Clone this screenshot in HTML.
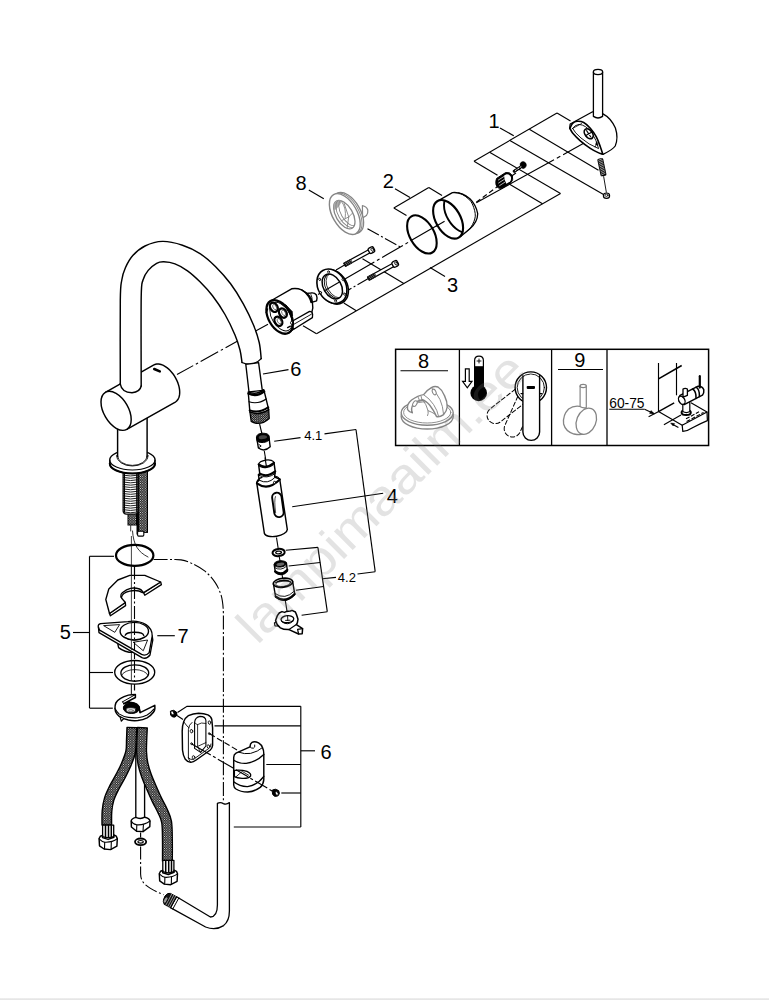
<!DOCTYPE html>
<html lang="en"><head><meta charset="utf-8"><title>Exploded parts drawing</title>
<style>
html,body{margin:0;padding:0;background:#fff;}
body{width:769px;height:1000px;overflow:hidden;position:relative;font-family:"Liberation Sans",Arial,Helvetica,sans-serif;}
svg{position:absolute;left:0;top:0;display:block;}
.foot{position:absolute;left:0;top:998px;width:769px;height:2px;background:linear-gradient(#f0f0f0,#e3e3e3);}
text{font-family:"Liberation Sans",Arial,Helvetica,sans-serif;fill:#000;}
.l{stroke:#000;stroke-width:1.15;fill:none;}
.o{stroke:#000;stroke-width:1.35;fill:#fff;stroke-linejoin:round;stroke-linecap:round;}
.n{stroke:#000;stroke-width:1.35;fill:none;stroke-linejoin:round;stroke-linecap:round;}
.t{stroke:#000;stroke-width:0.8;fill:none;stroke-linecap:round;}
.k{stroke:#000;stroke-width:1;fill:#000;stroke-linejoin:round;}
.dd{stroke:#000;stroke-width:1.1;fill:none;stroke-dasharray:13 2.5 2 2.5;}
.ds{stroke:#000;stroke-width:1.1;fill:none;stroke-dasharray:5 3;}
.g{stroke:#858585;stroke-width:1.2;fill:#fff;stroke-linejoin:round;stroke-linecap:round;}
.gn{stroke:#858585;stroke-width:1.2;fill:none;stroke-linejoin:round;stroke-linecap:round;}
.r{stroke:#000;stroke-width:2;fill:none;}
.bx{stroke:#000;stroke-width:1.5;fill:none;}
</style></head>
<body>
<svg width="769" height="1000" viewBox="0 0 769 1000">
<defs>
<pattern id="braid" width="2.4" height="2.4" patternUnits="userSpaceOnUse">
<rect width="2.4" height="2.4" fill="#000"/><circle cx="0" cy="0" r="0.58" fill="#fff"/><circle cx="2.4" cy="0" r="0.58" fill="#fff"/><circle cx="0" cy="2.4" r="0.58" fill="#fff"/><circle cx="2.4" cy="2.4" r="0.58" fill="#fff"/><circle cx="1.2" cy="1.2" r="0.58" fill="#fff"/>
</pattern>
<pattern id="knurl" width="2.2" height="2.2" patternUnits="userSpaceOnUse">
<rect width="2.2" height="2.2" fill="#000"/><circle cx="0.55" cy="0.55" r="0.5" fill="#fff"/><circle cx="1.65" cy="1.65" r="0.5" fill="#fff"/>
</pattern>
<pattern id="thread" width="4" height="1.6" patternUnits="userSpaceOnUse">
<rect width="4" height="1.6" fill="#fff"/><rect y="0.5" width="4" height="0.75" fill="#222"/>
</pattern>
</defs>
<text x="488.6" y="127.6" font-size="20">1</text>
<text x="382.8" y="188" font-size="20">2</text>
<text x="447" y="291.7" font-size="20">3</text>
<text x="295.6" y="190" font-size="20">8</text>
<text x="290.2" y="375.6" font-size="20">6</text>
<text x="386.8" y="502.5" font-size="20">4</text>
<text x="304.2" y="440.4" font-size="13">4.1</text>
<text x="337.8" y="581.8" font-size="13">4.2</text>
<text x="59.8" y="638.9" font-size="20">5</text>
<text x="177.6" y="642.8" font-size="20">7</text>
<text x="320.4" y="759.4" font-size="20">6</text>
<line class="l" x1="500" y1="128" x2="513.75" y2="135.75"/>
<line class="l" x1="474" y1="161.2" x2="557" y2="113"/>
<line class="l" x1="557" y1="113" x2="570.5" y2="121"/>
<line class="l" x1="529.3" y1="129.2" x2="598.5" y2="170.2"/>
<line class="l" x1="509.9" y1="140.5" x2="603.5" y2="194.5"/>
<line class="l" x1="474" y1="161.2" x2="497.5" y2="175.2"/>
<line class="l" x1="489.6" y1="152.2" x2="560.5" y2="193.4"/>
<line class="l" x1="316.5" y1="333.8" x2="560.5" y2="193.4"/>
<line class="l" x1="316.5" y1="333.8" x2="303" y2="325.8"/>
<line class="l" x1="356.3" y1="310.8" x2="343.8" y2="303"/>
<line class="l" x1="403.8" y1="283.5" x2="362.5" y2="258.8"/>
<line class="l" x1="542.5" y1="203.8" x2="509.6" y2="184.2"/>
<line class="l" x1="430" y1="267.5" x2="445" y2="276.5"/>
<line class="l" x1="395" y1="188.8" x2="410" y2="197.5"/>
<line class="l" x1="393.8" y1="208" x2="428.8" y2="187.5"/>
<line class="l" x1="428.8" y1="187.5" x2="442" y2="195.5"/>
<line class="l" x1="393.8" y1="208" x2="406.5" y2="215.5"/>
<line class="l" x1="308.8" y1="190" x2="323.8" y2="198.8"/>
<line class="l" x1="263" y1="374" x2="288.5" y2="369.6"/>
<line class="l" x1="274.2" y1="441.3" x2="300.5" y2="437.6"/>
<line class="l" x1="324.5" y1="433.9" x2="356" y2="429.5"/>
<line class="l" x1="356" y1="429.5" x2="375.2" y2="571.7"/>
<line class="l" x1="375.2" y1="571.7" x2="357.5" y2="574"/>
<line class="l" x1="292.2" y1="506.8" x2="383.2" y2="493.2"/>
<line class="l" x1="317.9" y1="547.4" x2="327.3" y2="611.7"/>
<line class="l" x1="285.8" y1="550.2" x2="317.9" y2="547.4"/>
<line class="l" x1="288.7" y1="566" x2="320.2" y2="562.5"/>
<line class="l" x1="295.9" y1="590.3" x2="323.6" y2="586.5"/>
<line class="l" x1="301.6" y1="615.2" x2="327.3" y2="611.7"/>
<line class="l" x1="322.5" y1="578.8" x2="336" y2="577.4"/>
<line class="l" x1="89.5" y1="556.3" x2="89.5" y2="708"/>
<line class="l" x1="89.5" y1="556.3" x2="114" y2="556.3"/>
<line class="l" x1="89.5" y1="672.5" x2="113" y2="672.5"/>
<line class="l" x1="89.5" y1="708.2" x2="112.8" y2="708.2"/>
<line class="l" x1="73" y1="632.5" x2="89.5" y2="632.5"/>
<line class="l" x1="157.3" y1="635.7" x2="174.8" y2="635.7"/>
<line class="l" x1="300.8" y1="706.3" x2="300.8" y2="827"/>
<path class="l" d="M177.5 712.5 L187 706.3 L300.8 706.3"/>
<line class="l" x1="214.5" y1="725.8" x2="300.8" y2="725.8"/>
<line class="l" x1="266.3" y1="764.5" x2="300.8" y2="764.5"/>
<line class="l" x1="281.3" y1="793" x2="300.8" y2="793"/>
<line class="l" x1="233.8" y1="827" x2="300.8" y2="827"/>
<line class="l" x1="300.8" y1="750.8" x2="315" y2="750.8"/>
<line class="l" x1="476.3" y1="202.7" x2="585" y2="142.6" style="stroke-dasharray:88.8 3.2 4 3.2 40"/>
<line class="l" x1="447" y1="219.8" x2="318" y2="294.6" style="stroke-dasharray:42 3 3 3 24 3 3 3 40 3 3 3 40"/>
<line class="dd" x1="268" y1="324.2" x2="177" y2="374.6" style="stroke-dasharray:20 3 2.5 3"/>
<line class="ds" x1="476.3" y1="202.3" x2="497.5" y2="186.5"/>
<line class="l" x1="510.5" y1="176.8" x2="516" y2="173"/>
<line class="dd" x1="367.5" y1="228.8" x2="400" y2="246.8"/>
<line class="dd" x1="345" y1="264.8" x2="336" y2="270"/>
<line class="dd" x1="368.8" y1="278.2" x2="346.5" y2="291"/>
<line class="dd" x1="134.5" y1="566" x2="134.5" y2="690"/>
<path class="dd" d="M153.6 559.5 L172 559.5  C173.5 559.57 177.67 559.25 181 559.9 C184.33 560.55 188 561.52 192 563.4 C196 565.28 201.1 567.95 205 571.2 C208.9 574.45 212.68 578.78 215.4 582.9 C218.12 587.02 220 591.57 221.3 595.9 C222.6 600.23 222.85 604.05 223.2 608.9 C223.55 613.75 223.37 622.32 223.4 625 L223.4 801" style="stroke-dasharray:14 2.4 2 2.4"/>
<path class="dd" d="M140.6 846.4 L140.6 874 C140.8 884 148 888 163.5 894.8"/>
<path class="dd" d="M259.6 424 L262 434"/>
<path class="dd" d="M264.3 451 L265.8 460"/>
<path class="dd" d="M276.5 537.5 L278.2 548.5"/>
<path class="dd" d="M279.3 557 L280.2 562"/>
<path class="dd" d="M282 574.5 L283 580"/>
<path class="dd" d="M285.2 600 L287 611"/>
<rect class="bx" x="395.6" y="349.3" width="313" height="96.2"/>
<line class="l" x1="459.4" y1="349.3" x2="459.4" y2="445.5" style="stroke-width:1.3"/>
<line class="l" x1="551.6" y1="349.3" x2="551.6" y2="445.5" style="stroke-width:1.3"/>
<line class="l" x1="607" y1="349.3" x2="607" y2="445.5" style="stroke-width:1.3"/>
<text x="418" y="367.6" font-size="20">8</text>
<line class="l" x1="400.5" y1="370.7" x2="448" y2="370.7"/>
<text x="574.2" y="367.2" font-size="20">9</text>
<line class="l" x1="558" y1="369.5" x2="603" y2="369.5"/>
<text x="609.3" y="408.4" font-size="14.6" textLength="35.2" lengthAdjust="spacingAndGlyphs">60-75</text>
<rect x="138.6" y="468" width="8.9" height="64.4" fill="url(#braid)" stroke="#000" stroke-width="1"/>
<rect x="128" y="512" width="8.5" height="13" fill="url(#braid)" stroke="#000" stroke-width="1"/>
<rect x="136.5" y="512" width="2.4" height="22.5" fill="#000"/>
<rect class="o" x="137.6" y="531.2" width="6.2" height="4.9" rx="1" style="stroke-width:1.1"/>
<path class="o" d="M123.1 468 L123.1 511 Q123.4 514 126.4 514.2 L135 514.2 Q137.8 514 138 511 L138 468 Z" style="stroke-width:1.2"/>
<path class="n" d="M123.3 475.2 Q130.5 476.8 137.8 475.2" style="stroke-width:1;stroke:#222"/>
<path class="n" d="M123.3 477.5 Q130.5 479.1 137.8 477.5" style="stroke-width:1;stroke:#222"/>
<path class="n" d="M123.3 479.8 Q130.5 481.4 137.8 479.8" style="stroke-width:1;stroke:#222"/>
<path class="n" d="M123.3 482.1 Q130.5 483.7 137.8 482.1" style="stroke-width:1;stroke:#222"/>
<path class="n" d="M123.3 484.4 Q130.5 486 137.8 484.4" style="stroke-width:1;stroke:#222"/>
<path class="n" d="M123.3 486.7 Q130.5 488.3 137.8 486.7" style="stroke-width:1;stroke:#222"/>
<path class="n" d="M123.3 489 Q130.5 490.6 137.8 489" style="stroke-width:1;stroke:#222"/>
<path class="n" d="M123.3 491.3 Q130.5 492.9 137.8 491.3" style="stroke-width:1;stroke:#222"/>
<path class="n" d="M123.3 493.6 Q130.5 495.2 137.8 493.6" style="stroke-width:1;stroke:#222"/>
<path class="n" d="M123.3 495.9 Q130.5 497.5 137.8 495.9" style="stroke-width:1;stroke:#222"/>
<path class="n" d="M123.3 498.2 Q130.5 499.8 137.8 498.2" style="stroke-width:1;stroke:#222"/>
<path class="n" d="M123.3 500.5 Q130.5 502.1 137.8 500.5" style="stroke-width:1;stroke:#222"/>
<path class="n" d="M123.3 502.8 Q130.5 504.4 137.8 502.8" style="stroke-width:1;stroke:#222"/>
<path class="n" d="M123.3 505.1 Q130.5 506.7 137.8 505.1" style="stroke-width:1;stroke:#222"/>
<path class="n" d="M123.3 507.4 Q130.5 509 137.8 507.4" style="stroke-width:1;stroke:#222"/>
<path class="n" d="M123.3 509.7 Q130.5 511.3 137.8 509.7" style="stroke-width:1;stroke:#222"/>
<path class="n" d="M123.3 512 Q130.5 513.6 137.8 512" style="stroke-width:1;stroke:#222"/>
<line class="n" x1="124.4" y1="470" x2="124.4" y2="512" style="stroke-width:1.3"/>
<line class="n" x1="136.8" y1="470" x2="136.8" y2="512" style="stroke-width:1.3"/>
<path class="t" d="M130.7 525.6 L130.7 531"/>
<path class="o" d="M109.75 460 A22.65 10 0 0 1 155.05 460 L155.05 463.4 A22.65 10 0 0 1 109.75 463.4 Z" style="stroke-width:1.3"/>
<path class="n" d="M109.75 463.4 A22.65 10 0 0 0 155.05 463.4" style="stroke-width:2"/>
<path class="n" d="M109.75 460 A22.65 10 0 0 0 155.05 460" style="stroke-width:1.2"/>
<path class="o" d="M117.6 420 L117.6 456 A14.75 6 0 0 0 147.1 456 L147.1 410 Z" style="stroke:none"/>
<path class="o" d="M117.6 420 L117.6 456 A14.75 9.6 0 0 0 147.1 456 L147.1 410 Z" style="stroke:none"/>
<path class="n" d="M117.6 428 L117.6 456.6 M147.1 456.6 L147.1 417.5" style="stroke-width:1.45"/>
<path class="n" d="M116.4 455.6 A15.9 10.4 0 0 0 148.3 455.6" style="stroke-width:0.85"/>
<path class="n" d="M117.6 456 A14.75 9.4 0 0 0 147.1 456" style="stroke-width:0.85"/>
<path class="o" d="M105.4 392.27 L153.9 364.97 L154.77 364.54 L155.7 364.23 L156.68 364.04 L157.72 363.97 L158.79 364.02 L159.9 364.19 L161.04 364.48 L162.2 364.89 L163.38 365.41 L164.57 366.05 L165.75 366.79 L166.93 367.63 L168.09 368.57 L169.23 369.61 L170.35 370.73 L171.42 371.92 L172.46 373.19 L173.45 374.53 L174.38 375.91 L175.25 377.35 L176.06 378.82 L176.79 380.32 L177.46 381.85 L178.04 383.38 L178.54 384.91 L178.95 386.43 L179.27 387.94 L179.51 389.42 L179.65 390.86 L179.7 392.26 L179.65 393.6 L179.52 394.88 L179.29 396.09 L178.97 397.22 L178.56 398.27 L178.07 399.23 L177.49 400.09 L176.83 400.84 L176.1 401.49 L175.3 402.03 L126.8 429.33 Z" style="stroke:none"/>
<path class="n" d="M105.4 392.27 L153.9 364.97 L154.77 364.54 L155.7 364.23 L156.68 364.04 L157.72 363.97 L158.79 364.02 L159.9 364.19 L161.04 364.48 L162.2 364.89 L163.38 365.41 L164.57 366.05 L165.75 366.79 L166.93 367.63 L168.09 368.57 L169.23 369.61 L170.35 370.73 L171.42 371.92 L172.46 373.19 L173.45 374.53 L174.38 375.91 L175.25 377.35 L176.06 378.82 L176.79 380.32 L177.46 381.85 L178.04 383.38 L178.54 384.91 L178.95 386.43 L179.27 387.94 L179.51 389.42 L179.65 390.86 L179.7 392.26 L179.65 393.6 L179.52 394.88 L179.29 396.09 L178.97 397.22 L178.56 398.27 L178.07 399.23 L177.49 400.09 L176.83 400.84 L176.1 401.49 L175.3 402.03 L126.8 429.33" style="stroke-width:1.45"/>
<ellipse class="o" cx="116.1" cy="410.8" rx="12.3" ry="21.4" transform="rotate(-30 116.1 410.8)" style="stroke-width:1.45"/>
<path class="n" d="M154.2 369 L159.8 371.4" style="stroke-width:2.5"/>
<path class="o" d="M120.3 384 C120.3 370 120.05 317.33 120.3 300 C120.55 282.67 120.95 285.37 121.8 280 C122.65 274.63 123.57 271.87 125.4 267.8 C127.23 263.73 129.53 259.23 132.8 255.6 C136.07 251.97 140.05 248.37 145 246 C149.95 243.63 156.25 241.53 162.5 241.4 C168.75 241.27 176.25 243.17 182.5 245.2 C188.75 247.23 194.52 250.07 200 253.6 C205.48 257.13 210.3 261.37 215.4 266.4 C220.5 271.43 225.95 277.57 230.6 283.8 C235.25 290.03 239.48 296.93 243.3 303.8 C247.12 310.67 250.85 318.55 253.5 325 C256.15 331.45 257.92 336.9 259.2 342.5 C260.48 348.1 260.87 355.92 261.2 358.6 Q251.5 367 242 362.5  C241.67 360.42 241.17 354.58 240 350 C238.83 345.42 237.5 340.92 235 335 C232.5 329.08 228.75 321.03 225 314.5 C221.25 307.97 216.67 301.25 212.5 295.8 C208.33 290.35 204.17 285.97 200 281.8 C195.83 277.63 191.67 273.78 187.5 270.8 C183.33 267.82 178.95 265.4 175 263.9 C171.05 262.4 166.87 261.9 163.8 261.8 C160.73 261.7 159.2 261.87 156.6 263.3 C154 264.73 150.47 267.62 148.2 270.4 C145.93 273.18 144.17 275.48 143 280 C141.83 284.52 141.5 279.83 141.2 297.5 C140.9 315.17 141.2 371.25 141.2 386 Q131 396 120.3 384 Z" style="stroke:none"/>
<path class="n" d="M120.3 384 C120.3 370 120.05 317.33 120.3 300 C120.55 282.67 120.95 285.37 121.8 280 C122.65 274.63 123.57 271.87 125.4 267.8 C127.23 263.73 129.53 259.23 132.8 255.6 C136.07 251.97 140.05 248.37 145 246 C149.95 243.63 156.25 241.53 162.5 241.4 C168.75 241.27 176.25 243.17 182.5 245.2 C188.75 247.23 194.52 250.07 200 253.6 C205.48 257.13 210.3 261.37 215.4 266.4 C220.5 271.43 225.95 277.57 230.6 283.8 C235.25 290.03 239.48 296.93 243.3 303.8 C247.12 310.67 250.85 318.55 253.5 325 C256.15 331.45 257.92 336.9 259.2 342.5 C260.48 348.1 260.87 355.92 261.2 358.6" style="stroke-width:1.45"/>
<path class="n" d="M242 362.5 C241.67 360.42 241.17 354.58 240 350 C238.83 345.42 237.5 340.92 235 335 C232.5 329.08 228.75 321.03 225 314.5 C221.25 307.97 216.67 301.25 212.5 295.8 C208.33 290.35 204.17 285.97 200 281.8 C195.83 277.63 191.67 273.78 187.5 270.8 C183.33 267.82 178.95 265.4 175 263.9 C171.05 262.4 166.87 261.9 163.8 261.8 C160.73 261.7 159.2 261.87 156.6 263.3 C154 264.73 150.47 267.62 148.2 270.4 C145.93 273.18 144.17 275.48 143 280 C141.83 284.52 141.5 279.83 141.2 297.5 C140.9 315.17 141.2 371.25 141.2 386" style="stroke-width:1.45"/>
<path class="n" d="M120.3 384 Q121.6 392.4 132 392.8 Q140 392 141.2 386" style="stroke-width:1.45"/>
<path class="n" d="M261.2 358.6 Q253 367.5 242 362.5"/>
<path class="o" d="M245.8 364.3 L249 392 L262.3 390.3 L258.6 362.6 Z"/>
<path class="o" d="M248.2 392 L249.9 412 Q259.5 416 268.7 409.6 L263.8 389.6 Q257 395.4 248.2 392 Z" style="stroke-width:1.4"/>
<path class="n" d="M248.4 393.6 Q257 397.4 264.2 391.4" style="stroke-width:2.2"/>
<path class="n" d="M249 401.8 Q258 404.6 266.2 399" style="stroke-width:1.2"/>
<path class="n" d="M249.7 410.4 Q259 413.6 268.2 407.4" style="stroke-width:2"/>
<path class="k" d="M249.9 412 L251.2 421.4 Q260 426.6 269.2 418.4 L268.7 409.6 Q259.5 416 249.9 412 Z" style="fill:url(#knurl);stroke-width:1.3"/>
<path class="o" d="M256.6 437.4 L258.4 448 Q264.5 452.4 270.2 446.8 L268.8 436 Z" style="stroke-width:1.4"/>
<path class="k" d="M256.6 437.4 Q256.4 433.6 262.4 433.2 Q268.6 433.2 268.8 436 L269.4 440 Q263.6 444.4 257.2 441.4 Z"/>
<ellipse class="o" cx="262.9" cy="437.2" rx="4.2" ry="1.9" transform="rotate(-6 262.9 437.2)" style="fill:#444;stroke:none"/>
<path class="n" d="M258.8 444.4 l2.4 1.6 l-2 1.4" style="stroke-width:0.9"/>
<path class="o" d="M258.6 464.4 L259.8 474 L258.4 474.6 L259.2 480 L256.7 482.6 L264.4 533.5 A11.66 5.2 -10 0 0 287.3 529.5 L279.7 479 L274.6 477 L275.2 471.4 L274 462.6 Z" style="stroke-width:1.45"/>
<ellipse class="o" cx="266.3" cy="463.7" rx="7.7" ry="3.7" transform="rotate(-8 266.3 463.7)" style="stroke-width:1.2"/>
<path class="n" d="M258.6 464.4 Q266 469.6 274 462.8" style="stroke-width:1.9"/>
<path class="n" d="M259.8 473.6 Q267 477.8 275.2 471.4" style="stroke-width:2.2"/>
<path class="n" d="M258.5 475.2 Q267 479.6 275.4 473.4" style="stroke-width:1"/>
<path class="n" d="M256.7 482.6 Q257.6 478.6 262 477.4 M279.7 479 Q278 476.4 274.6 476" style="stroke-width:1.2"/>
<path class="n" d="M256.9 483.4 Q268 491.4 279.8 479.6" style="stroke-width:2.1"/>
<path class="n" d="M259.6 480.4 Q267.6 484.6 274.4 478" style="stroke-width:1"/>
<ellipse class="o" cx="274.7" cy="482.5" rx="1.2" ry="1.2" style="stroke-width:1"/>
<path class="l" d="M265 457.5 L266.4 466.6"/>
<rect class="o" x="-4.7" y="-12.3" width="9.4" height="24.6" rx="4.7" transform="translate(277.9 504.9) rotate(-8)" style="stroke-width:1.9"/>
<path class="n" d="M275.4 496.6 Q274 500 275.6 512.6" style="stroke-width:0.7"/>
<ellipse class="o" cx="278.6" cy="552.5" rx="6.1" ry="3.6" transform="rotate(-6 278.6 552.5)" style="stroke-width:2"/>
<ellipse class="o" cx="278.6" cy="552.5" rx="2.9" ry="1.3" transform="rotate(-6 278.6 552.5)" style="stroke-width:1.3"/>
<path class="o" d="M274.2 564.6 L275.4 572.4 Q281.5 577.4 287.4 571 L286.4 563 Z" style="stroke-width:1.4"/>
<ellipse class="k" cx="280.3" cy="563.9" rx="6.1" ry="3.1" transform="rotate(-7 280.3 563.9)"/>
<ellipse class="o" cx="280.4" cy="564.3" rx="4" ry="1.6" transform="rotate(-7 280.4 564.3)" style="fill:#666;stroke:none"/>
<path class="n" d="M275.2 571.4 Q281.4 576.2 287.2 570" style="stroke-width:2.4"/>
<path class="n" d="M274.6 567.6 Q281 571.6 286.8 566" style="stroke-width:0.9"/>
<path class="o" d="M273.4 583.6 L275.6 597 Q285 604.6 294.8 594.4 L292.6 581.4 Z" style="stroke-width:1.4"/>
<ellipse class="o" cx="283" cy="582.7" rx="9.7" ry="4.5" transform="rotate(-7 283 582.7)" style="stroke-width:1.7"/>
<path class="k" d="M275.2 582.6 Q283 577.6 291 581.6 Q283 580.4 275.2 582.6 Z" style="stroke-width:0.6"/>
<ellipse class="n" cx="283.1" cy="583.4" rx="7.4" ry="3" transform="rotate(-7 283.1 583.4)" style="stroke-width:0.8"/>
<path class="n" d="M275.8 596.6 Q285 604 294.6 594" style="stroke-width:2.2"/>
<path class="n" d="M275.2 593.6 Q285 600.6 294.2 591.2" style="stroke-width:0.9"/>
<path class="o" d="M275.6 620.6 L277.4 615.6 L279.2 613 L282 611.6 L284.6 612.4 L286.6 611.4 L290.4 611 L292 610.4 L295.4 612 L296.8 615.4 L298 619.2 L297.4 622.6 L296.4 624.6 L302.6 628.6 L302.2 633.8 L298.6 634 L289 629.6 Q283.6 629.8 280.4 627.8 Q276.4 625 275.6 620.6 Z" style="stroke-width:1.5"/>
<ellipse class="o" cx="287.4" cy="619.2" rx="6.4" ry="3.5" transform="rotate(-5 287.4 619.2)" style="stroke-width:1.3"/>
<path class="n" d="M281.6 621.6 Q287.4 626.4 293.4 621" style="stroke-width:1"/>
<path class="n" d="M287.6 615.8 L287.8 620.6 M285.6 620.4 L290 620.2" style="stroke-width:0.9"/>
<path class="n" d="M289 629.6 L296.4 624.6 M298.6 634 L297.6 629.4 L302.6 628.6" style="stroke-width:1.2"/>
<path class="n" d="M276 622 L274.4 623 L275 626 L278 626" style="stroke-width:1.2"/>
<line class="l" x1="131.4" y1="536" x2="131.4" y2="694" style="stroke-width:0.85;stroke:#222"/>
<ellipse class="r" cx="134.7" cy="555.4" rx="18.7" ry="10.5" style="stroke-width:2.2"/>
<path class="t" d="M132.5 531 C133.5 545 138 552 148 557"/>
<path class="o" d="M160.6 582 L161.4 584.6 L144.8 595.2 L143.6 592.6 Z"/>
<path class="o" d="M125.3 602.5 L125.6 605.6 L110.4 615.8 L109.5 613.5 Z"/>
<path class="o" d="M109.5 613.5 L105.8 599.5 L108.8 589 L117.8 580 L129.8 575.3 L144.8 575.3 L160.6 582 L143.6 592.6 C142.92 592 141.68 589.72 139.5 589 C137.32 588.28 133.37 587.67 130.5 588.3 C127.63 588.93 123.92 591.43 122.3 592.8 C120.68 594.17 120.3 594.88 120.8 596.5 C121.3 598.12 124.55 601.5 125.3 602.5 Z"/>
<path class="n" d="M121.4 597.6 C122 591 136 588.5 142.6 592.6"/>
<path class="o" d="M117 640 L118.6 647.6 Q126 653.5 137 652.2 L137 644 Z"/>
<path class="o" d="M98.4 627 L99 632.6 L142 657.6 Q146.6 659.6 150 655 L152.8 640 L152.2 636"/>
<path class="o" d="M100.6 623.6 Q97.6 624.4 98.4 627 L99.6 630.2 L141.6 654.4 Q146 656.4 149.2 652.6 L152.2 636 Q152.6 629 146 624.6 Q138 620 128 621.6 Z"/>
<path class="o" d="M104 625.6 L119.6 624.6 L115 632 Z" style="stroke-width:0.9"/>
<path class="o" d="M133.6 642.2 L147.6 640 L143.4 650.4 Z" style="stroke-width:0.9"/>
<ellipse class="o" cx="134.3" cy="631.2" rx="14.2" ry="8.8"/>
<path class="n" d="M125.2 635.2 A9.4 3.6 0 0 1 143.8 635.6"/>
<path class="n" d="M122.6 636 Q134 645 146.2 636.2" style="stroke-width:0.8"/>
<ellipse class="o" cx="134.7" cy="672.3" rx="20" ry="11.8"/>
<ellipse class="o" cx="134.8" cy="673" rx="13.9" ry="8.2"/>
<path class="n" d="M121.6 675.4 A13.4 7 0 0 1 148 675.4" style="stroke-width:0.8"/>
<path class="o" d="M135.4 694.4 Q131 694.4 128.4 695.1 Q123.6 696.4 120.6 698.3 Q117 700.4 115.9 702.9 Q114.8 705.6 115 708.4 L115.5 711.5 Q116.6 714.2 119 716.2 Q123 719 128.4 720.1 Q133 720.9 137.8 720.5 Q143 719.8 147.1 717.8 Q151 715.6 153.4 712.3 Q154.8 710.4 154.9 708.4 L154.8 705.3 L140.1 712.7 L139.3 708.4 Q136 701.6 128 702.4 L123.7 703.7 L135.4 697.5 Z" style="stroke-width:1.5"/>
<path class="n" d="M115 708.4 Q116.6 711.4 119 713.9 Q123 716.6 128.4 717.4 Q133 718 137.8 717.8 Q143 717 147.1 715 Q151 712.8 153.8 709.2" style="stroke-width:1.1"/>
<path class="n" d="M122.6 701.8 L134.6 695 M123.7 703.7 L122.6 701.8" style="stroke-width:1"/>
<ellipse class="k" cx="131.5" cy="708" rx="8.2" ry="5.5"/>
<ellipse class="o" cx="130.9" cy="710" rx="4.9" ry="2.4" style="stroke-width:0.7;fill:#ddd"/>
<ellipse class="n" cx="130.9" cy="710.6" rx="2.4" ry="1" style="stroke-width:0.6;stroke:#555"/>
<path class="n" d="M140.1 712.7 L139.3 708.4" style="stroke-width:1.2"/>
<path class="o" d="M120.2 717.4 L121.4 721.2 L123.4 718.8" style="stroke-width:1.2"/>
<line class="dd" x1="134.5" y1="566.5" x2="134.5" y2="588"/>
<line class="dd" x1="134.5" y1="622" x2="134.5" y2="650"/>
<line class="dd" x1="134.5" y1="660" x2="134.5" y2="681"/>
<line class="l" x1="131.4" y1="566.5" x2="131.4" y2="588.5" style="stroke-width:0.85;stroke:#222"/>
<line class="l" x1="131.4" y1="622.5" x2="131.4" y2="650" style="stroke-width:0.85;stroke:#222"/>
<line class="l" x1="131.4" y1="660.5" x2="131.4" y2="681" style="stroke-width:0.85;stroke:#222"/>
<line class="l" x1="131.4" y1="684" x2="131.4" y2="694.4" style="stroke-width:0.85;stroke:#222"/>
<line class="l" x1="134.5" y1="684" x2="134.5" y2="690.5"/>
<rect class="o" x="135.8" y="745" width="8.8" height="74"/>
<path class="k" d="M127 727.41 C126.92 729.47 126.69 735.83 126.51 739.76 C126.32 743.7 126.73 747.11 125.9 751 C125.08 754.9 123.16 759.36 121.57 763.15 C119.98 766.95 118.32 769.99 116.34 773.78 C114.37 777.57 111.66 781.9 109.7 785.87 C107.74 789.84 105.85 793.49 104.61 797.6 C103.36 801.72 102.65 806 102.22 810.56 C101.79 815.11 102.04 822.54 102 824.93 L111.6 825.07 C111.63 822.8 111.41 815.55 111.78 811.44 C112.15 807.33 112.71 803.95 113.79 800.4 C114.88 796.85 116.46 793.83 118.3 790.13 C120.14 786.44 122.83 782.1 124.86 778.22 C126.88 774.34 128.69 771.05 130.43 766.85 C132.17 762.64 134.35 757.43 135.3 753 C136.24 748.56 135.88 744.44 136.09 740.24 C136.31 736.04 136.51 729.87 136.6 727.79 Z" style="fill:url(#braid);stroke-width:1.4"/>
<path class="k" d="M137.51 727.56 C137.41 729.61 137.04 735.72 136.9 739.84 C136.77 743.95 136.49 748.05 136.71 752.24 C136.92 756.44 137.32 760.76 138.2 765 C139.08 769.23 140.5 773.49 141.99 777.65 C143.47 781.81 145.34 785.87 147.1 789.95 C148.87 794.03 150.75 798.28 152.58 802.11 C154.41 805.95 156.58 809.51 158.11 812.96 C159.64 816.41 161.03 818.28 161.77 822.8 C162.5 827.32 162.38 833.73 162.5 840.1 C162.62 846.47 162.5 857.52 162.5 861 L172.3 861 C172.3 857.48 172.44 846.53 172.3 839.9 C172.15 833.27 172.3 826.34 171.43 821.2 C170.57 816.06 168.76 812.93 167.09 809.04 C165.42 805.15 163.25 801.72 161.42 797.89 C159.59 794.05 157.8 789.97 156.1 786.05 C154.39 782.13 152.6 778.19 151.21 774.35 C149.83 770.51 148.58 766.77 147.8 763 C147.01 759.24 146.68 755.56 146.49 751.76 C146.31 747.95 146.56 744.11 146.7 740.16 C146.83 736.21 147.19 730.06 147.29 728.04 Z" style="fill:url(#braid);stroke-width:1.4"/>
<path class="o" d="M102.6 825.2 L102.6 836.6 Q108.1 838.8 113.7 836.6 L113.7 825.2 Z" style="stroke-width:1.3"/>
<path class="n" d="M105.5 825.8 L105.5 836.8 M108.5 825.8 L108.5 837 M111.3 825.8 L111.3 836.8" style="stroke-width:1.5"/>
<path class="o" d="M99.1 838.6 L100.3 836.2 L102.5 835.4 L102.5 837.6 L108.1 839.4 L113.9 837.2 L113.9 835 L116.3 836.2 L117.3 838.6 L116.9 846.2 L110.5 849.6 L104.1 849 L99.5 845.8 Z" style="stroke-width:1.45"/>
<path class="n" d="M99.1 838.8 Q102.1 841.8 104.7 842.2 Q112.1 842.6 117.3 838.8" style="stroke-width:1.1"/>
<path class="n" d="M104.7 842.2 L104.5 849 M111.3 842.2 L111.1 849.4" style="stroke-width:1.1"/>
<path class="o" d="M162.8 860.3 L162.8 871.7 Q168.3 873.9 173.9 871.7 L173.9 860.3 Z" style="stroke-width:1.3"/>
<path class="n" d="M165.7 860.9 L165.7 871.9 M168.7 860.9 L168.7 872.1 M171.5 860.9 L171.5 871.9" style="stroke-width:1.5"/>
<path class="o" d="M159.3 873.7 L160.5 871.3 L162.7 870.5 L162.7 872.7 L168.3 874.5 L174.1 872.3 L174.1 870.1 L176.5 871.3 L177.5 873.7 L177.1 881.3 L170.7 884.7 L164.3 884.1 L159.7 880.9 Z" style="stroke-width:1.45"/>
<path class="n" d="M159.3 873.9 Q162.3 876.9 164.9 877.3 Q172.3 877.7 177.5 873.9" style="stroke-width:1.1"/>
<path class="n" d="M164.9 877.3 L164.7 884.1 M171.5 877.3 L171.3 884.5" style="stroke-width:1.1"/>
<path class="o" d="M131.2 821 Q131.6 818.6 135.8 817.4 Q140.4 819.6 144.8 817.2 Q149.6 818.4 150 821 L149.8 826.6 L143 831.6 L136.6 831.2 L131.4 827 Z" style="stroke-width:1.45"/>
<path class="n" d="M131.2 821 Q133 824.4 136.8 824.8 Q144 825.4 150 821 M136.8 824.8 L136.6 831.2 M143.4 825 L143 831.6" style="stroke-width:1.1"/>
<ellipse class="o" cx="140.6" cy="841.8" rx="5.6" ry="3.3" style="stroke-width:1.8"/>
<ellipse class="o" cx="140.6" cy="841.8" rx="2.7" ry="1.3" style="stroke-width:1.1"/>
<line class="l" x1="140.6" y1="832.4" x2="140.6" y2="837.6"/>
<path class="k" d="M170.4 711.2 Q173.6 709 176.4 712 Q178.2 715.4 175.2 717 Q172 717.8 170.6 715 Z"/>
<ellipse class="o" cx="172.4" cy="712.8" rx="1.3" ry="1.9" transform="rotate(-30 172.4 712.8)" style="stroke-width:0.6"/>
<line class="l" x1="177" y1="715.6" x2="183" y2="719.4"/>
<path class="o" d="M183.7 721.8 Q185.4 717.4 188.4 715.6 Q193 713.4 198.6 713.2 Q204 713.2 207.9 714.8 Q211.2 716.4 211.8 719.5 L212.6 728 L212.6 745.3 Q212.2 748.4 210.3 750 L196.2 760 Q193.4 762.2 190.7 762.4 Q187.4 762 185.3 759.3 Q183 755.6 182.5 750 L182.2 731.2 Q182.4 725 183.7 721.8 Z" style="stroke-width:1.45"/>
<path class="n" d="M188.4 757.8 L188.4 729.6 Q188.8 724.6 192 722.4 M183.7 721.8 Q186.4 725.4 188.6 727.6 M190.7 762.4 Q189 760.4 188.4 757.8 M188.4 757.8 Q190.4 760 193.4 759.4 L209.4 748 Q211 746.4 211 744" style="stroke-width:0.9"/>
<path class="o" d="M194.6 722.4 Q195 717.4 200 716.4 Q205.4 716.4 205.9 720.4 L205.9 746 L200.6 752.4 L194.6 748.4 Z" style="stroke-width:1.1"/>
<path class="n" d="M197.6 724.6 L197.6 746.4 L200.6 752.4 M194.6 722.4 Q196.4 724.8 197.6 724.6 Q201 722 205.9 723.4 M197.6 746.4 L205.9 742.6" style="stroke-width:0.8"/>
<ellipse class="o" cx="191.5" cy="731.2" rx="1.27" ry="1.8" transform="rotate(-15 191.5 731.2)" style="stroke-width:0.8"/>
<ellipse class="o" cx="209.5" cy="722.6" rx="1.27" ry="1.8" transform="rotate(-15 209.5 722.6)" style="stroke-width:0.8"/>
<ellipse class="o" cx="209.2" cy="733.6" rx="0.77" ry="1.08" transform="rotate(-15 209.2 733.6)" style="stroke-width:0.8"/>
<ellipse class="o" cx="191.5" cy="743.7" rx="0.77" ry="1.08" transform="rotate(-15 191.5 743.7)" style="stroke-width:0.8"/>
<ellipse class="o" cx="208.4" cy="746.5" rx="1.27" ry="1.8" transform="rotate(-15 208.4 746.5)" style="stroke-width:0.8"/>
<ellipse class="o" cx="193.6" cy="757.4" rx="1.27" ry="1.8" transform="rotate(-15 193.6 757.4)" style="stroke-width:0.8"/>
<line class="ds" x1="209.6" y1="733.8" x2="238.3" y2="750.7" style="stroke-dasharray:6 2.6"/>
<line class="l" x1="191.8" y1="743.9" x2="234" y2="768.6" style="stroke-dasharray:22 2.6 3 2.6"/>
<path class="o" d="M233.7 757.7 Q233.6 754.6 236 753.2 L250 746.8 Q250 743.6 252 742.4 Q254.6 741 258.6 742.9 Q261.6 744.8 262.5 747.6 Q263.8 750 263.8 754 L263.8 779.6 Q263.4 784.6 260.2 787.4 Q254.6 791.4 247.7 792 Q240.4 792 236 789 Q233.8 787.4 233.7 785 Z" style="stroke-width:1.45"/>
<path class="n" d="M233.7 760.2 Q239 763.8 246.2 763.4 Q256.6 761.8 263.8 754.6"/>
<path class="n" d="M238.6 752.2 Q244.6 754.4 250.6 753.4 Q258 751.6 262.5 747.6" style="stroke-width:1"/>
<path class="n" d="M233.7 781.8 Q240 786.8 247.6 786.6 Q257.6 785 263.8 776.4"/>
<path class="n" d="M250 746.8 Q251.4 748.6 253.4 748.2 Q255.4 747.4 254.8 745" style="stroke-width:1"/>
<path class="o" d="M234.4 770.4 Q241 769.6 247 771.4 Q251.4 773.4 250.6 776 Q248.4 778.8 242 778.4 Q237 778 234.4 776.6 Z" style="stroke-width:1.3"/>
<path class="n" d="M236 776.8 L242.2 771.4 L248.6 775.2" style="stroke-width:0.8"/>
<line class="l" x1="236" y1="769.8" x2="272.6" y2="791.2" style="stroke-dasharray:14 2.6 3 2.6"/>
<path class="k" d="M272.2 790.2 Q275.2 788 278.6 790.6 Q280.6 794 277.8 796 Q274.2 797.4 272.6 794.4 Z"/>
<ellipse class="o" cx="276.8" cy="793.4" rx="1.3" ry="1.9" transform="rotate(-30 276.8 793.4)" style="stroke-width:0.6"/>
<path class="o" d="M217.4 803.4 L217.4 905 Q217.4 916.6 210.4 917 L176.6 896.8 L170.4 907.6 L205.6 927 Q215.6 930.8 223.6 925.6 Q229.4 921 229.4 911 L229.4 802.6 Q226.4 805 223.4 803.6 Q220.4 801.8 217.4 803.4 Z" style="stroke-width:1.3"/>
<path class="k" d="M176.6 896.8 L170.6 907.8 L164.2 904.4 Q162.2 900 165 896 Q167.6 892.4 170.4 893.4 Z" style="fill:#111"/>
<path class="n" d="M171.6 894.4 L165.8 905.2 M173.6 895.4 L167.8 906.4 M175.4 896.4 L169.6 907.2" style="stroke:#fff;stroke-width:0.55"/>
<ellipse class="o" cx="165.6" cy="900" rx="1.7" ry="3.6" transform="rotate(28 165.6 900)" style="stroke-width:0.7;fill:#999"/>
<path class="n" d="M178.8 898 L172.8 909" style="stroke-width:1"/>
<path class="o" d="M570.2 124 L592.6 111.8 L603 113.8 Q611 118 615.4 128 Q618.6 138 615.2 146 Q613 149.4 603 154.4 L600 153 L569.6 128.4 Z" style="stroke-width:1.3"/>
<path class="o" d="M569.9 128.3 C570.38 127.47 571.62 124.47 572.8 123.3 C573.98 122.13 575.18 121.43 577 121.3 C578.82 121.17 581.48 121.33 583.7 122.5 C585.92 123.67 588.22 125.93 590.3 128.3 C592.38 130.67 594.53 133.63 596.2 136.7 C597.87 139.77 599.2 143.78 600.3 146.7 C601.4 149.62 602.38 152.95 602.8 154.2 C602.12 153.98 600.78 153.88 598.7 152.9 C596.62 151.92 593.37 150.32 590.3 148.3 C587.23 146.28 583.22 143.3 580.3 140.8 C577.38 138.3 574.53 135.38 572.8 133.3 C571.07 131.22 570.38 129.13 569.9 128.3 Z" style="stroke-width:1.6"/>
<path class="n" d="M572.6 128.4 Q574.6 125 579 124.4 Q586 125 591.6 132.6 Q596.4 139.6 598.6 148.6 Q588.6 144.6 581 138 Q574.6 132.6 572.6 128.4 Z" style="stroke-width:0.9"/>
<path class="n" d="M572.6 128.4 L581.6 123.6 M597 142.6 L595.2 147" style="stroke-width:0.8"/>
<ellipse class="o" cx="588.7" cy="133.8" rx="3.6" ry="5.6" transform="rotate(-38 588.7 133.8)" style="stroke-width:1.7"/>
<path class="n" d="M586.6 130.6 L590.8 137 M585.8 135.4 L591.6 132.2" style="stroke-width:1.1"/>
<path class="k" d="M596.6 141.6 L598 145.4 L595.6 144.4 Z" style="stroke-width:0.5"/>
<path class="o" d="M593.4 72 L593.4 116.4 Q598 119.6 602.6 116.4 L602.6 72 Z" style="stroke-width:1.3"/>
<ellipse class="o" cx="598" cy="72" rx="4.6" ry="2.6" style="stroke-width:1.3"/>
<g transform="translate(601.9 167.2) rotate(-12)"><rect x="-3" y="-9" width="6" height="18" rx="1.5" fill="#000"/><line x1="-2.2" y1="-7.4" x2="2.2" y2="-8.2" stroke="#fff" stroke-width="0.55"/><line x1="-2.2" y1="-5.75" x2="2.2" y2="-6.55" stroke="#fff" stroke-width="0.55"/><line x1="-2.2" y1="-4.1" x2="2.2" y2="-4.9" stroke="#fff" stroke-width="0.55"/><line x1="-2.2" y1="-2.45" x2="2.2" y2="-3.25" stroke="#fff" stroke-width="0.55"/><line x1="-2.2" y1="-0.8" x2="2.2" y2="-1.6" stroke="#fff" stroke-width="0.55"/><line x1="-2.2" y1="0.85" x2="2.2" y2="0.05" stroke="#fff" stroke-width="0.55"/><line x1="-2.2" y1="2.5" x2="2.2" y2="1.7" stroke="#fff" stroke-width="0.55"/><line x1="-2.2" y1="4.15" x2="2.2" y2="3.35" stroke="#fff" stroke-width="0.55"/><line x1="-2.2" y1="5.8" x2="2.2" y2="5" stroke="#fff" stroke-width="0.55"/><line x1="-2.2" y1="7.45" x2="2.2" y2="6.65" stroke="#fff" stroke-width="0.55"/></g>
<line class="l" x1="603.6" y1="176.2" x2="606.4" y2="192.6" style="stroke-width:0.9"/>
<ellipse class="o" cx="606.5" cy="195.7" rx="3.1" ry="2.7" style="stroke-width:1.2"/>
<ellipse class="n" cx="606.5" cy="195.3" rx="1.5" ry="1.1" style="stroke-width:0.8"/>
<path class="k" d="M496.6 178.4 L505.6 172.6 Q510 171.6 512.4 175.6 Q513.6 180 511 182.6 L502.4 188 Q497.6 189.6 496 184.6 Q495.4 181 496.6 178.4 Z"/>
<path class="o" d="M506 174.4 Q509.2 174 510.8 176.8 Q511.6 179.8 510 181.4 L506.4 183.8 Q504 179.6 504.2 175.6 Z" style="stroke:none"/>
<path class="n" d="M498.4 180 L503.8 176.6 M498.6 183 L504.2 179.4 M499.6 185.6 L504.8 182.2" style="stroke:#fff;stroke-width:0.7"/>
<path class="k" d="M513.2 170.6 L520.4 166 Q519.6 163.4 521.6 162 Q524.4 161 526 163.6 Q526.8 166.4 524.6 168 Q522.6 168.6 521.6 167.8 L514.4 172.6 Q512.8 172.4 513.2 170.6 Z"/>
<path class="n" d="M515.2 170.6 l1.2 -0.8 M517.6 169 l1.2 -0.8 M520 167.4 l1 -0.7" style="stroke:#fff;stroke-width:0.9"/>
<path class="o" d="M438.4 200.6 L452.4 192.6 Q461 191.6 469.9 198.7 Q476 204.6 477.7 213.7 Q477.6 222 469.9 228.7 L460.6 236.6 Z" style="stroke-width:1.3"/>
<path class="n" d="M458.6 192.8 C459.23 193.07 460.77 193.4 462.4 194.4 C464.03 195.4 466.67 197.03 468.4 198.8 C470.13 200.57 471.65 202.1 472.8 205 C473.95 207.9 475.57 212.57 475.3 216.2 C475.03 219.83 472.93 223.98 471.2 226.8 C469.47 229.62 465.95 232.05 464.9 233.1" style="stroke-width:1"/>
<ellipse class="o" cx="448.1" cy="219.3" rx="12.3" ry="21.1" transform="rotate(-30 448.1 219.3)" style="stroke-width:2.1"/>
<clipPath id="cp2"><ellipse cx="448.1" cy="219.3" rx="12.3" ry="21.1" transform="rotate(-30 448.1 219.3)"/></clipPath>
<g clip-path="url(#cp2)"><ellipse class="n" cx="458.6" cy="213.6" rx="11.9" ry="20.7" transform="rotate(-30 458.6 213.6)" style="stroke-width:1.9"/></g>
<line class="l" x1="444.6" y1="221.2" x2="436" y2="226.2"/>
<ellipse class="r" cx="421.9" cy="234.4" rx="12.1" ry="20.9" transform="rotate(-30 421.9 234.4)" style="stroke-width:2.1"/>
<g transform="translate(344.6 264.8) rotate(-28.72)"><rect class="o" x="0" y="-1.7" width="28.3" height="3.4" style="stroke-width:1.25"/><rect x="-0.4" y="-2.3" width="8.6" height="4.6" rx="1.2" fill="#111"/><line x1="1.4" y1="-1.6" x2="2" y2="1.6" stroke="#fff" stroke-width="0.35"/><line x1="3.3" y1="-1.6" x2="3.9" y2="1.6" stroke="#fff" stroke-width="0.35"/><line x1="5.2" y1="-1.6" x2="5.8" y2="1.6" stroke="#fff" stroke-width="0.35"/><line x1="7.1" y1="-1.6" x2="7.7" y2="1.6" stroke="#fff" stroke-width="0.35"/><rect class="o" x="27.7" y="-2.9" width="5.8" height="5.8" rx="1.7" style="stroke-width:1.35"/><ellipse class="n" cx="31.5" cy="0" rx="1.2" ry="1.7" style="stroke-width:0.8"/></g>
<g transform="translate(368.4 278.6) rotate(-28.72)"><rect class="o" x="0" y="-1.7" width="28.3" height="3.4" style="stroke-width:1.25"/><rect x="-0.4" y="-2.3" width="8.6" height="4.6" rx="1.2" fill="#111"/><line x1="1.4" y1="-1.6" x2="2" y2="1.6" stroke="#fff" stroke-width="0.35"/><line x1="3.3" y1="-1.6" x2="3.9" y2="1.6" stroke="#fff" stroke-width="0.35"/><line x1="5.2" y1="-1.6" x2="5.8" y2="1.6" stroke="#fff" stroke-width="0.35"/><line x1="7.1" y1="-1.6" x2="7.7" y2="1.6" stroke="#fff" stroke-width="0.35"/><rect class="o" x="27.7" y="-2.9" width="5.8" height="5.8" rx="1.7" style="stroke-width:1.35"/><ellipse class="n" cx="31.5" cy="0" rx="1.2" ry="1.7" style="stroke-width:0.8"/></g>
<ellipse class="o" cx="333.4" cy="286.9" rx="13.8" ry="18.2" transform="rotate(-30 333.4 286.9)" style="stroke-width:1.5"/>
<ellipse class="o" cx="331.9" cy="286.3" rx="13.8" ry="18.2" transform="rotate(-30 331.9 286.3)" style="stroke-width:1.6"/>
<ellipse class="o" cx="332.3" cy="286.5" rx="8.9" ry="13.4" transform="rotate(-30 332.3 286.5)" style="stroke-width:1.5"/>
<clipPath id="cp3"><ellipse cx="332.3" cy="286.5" rx="8.9" ry="13.4" transform="rotate(-30 332.3 286.5)"/></clipPath>
<g clip-path="url(#cp3)"><ellipse class="n" cx="334.5" cy="286.1" rx="8.9" ry="13.4" transform="rotate(-30 334.5 286.1)" style="stroke-width:0.9"/><ellipse class="n" cx="336.3" cy="285.5" rx="8.9" ry="13.4" transform="rotate(-30 336.3 285.5)" style="stroke-width:0.7"/><line class="l" x1="342" y1="280.6" x2="324" y2="291"/></g>
<ellipse class="o" cx="328.6" cy="272" rx="0.9" ry="1.3" transform="rotate(-30 328.6 272)" style="stroke-width:0.8"/>
<ellipse class="o" cx="319.6" cy="279.4" rx="0.9" ry="1.3" transform="rotate(-30 319.6 279.4)" style="stroke-width:0.8"/>
<ellipse class="o" cx="320.6" cy="292.6" rx="0.9" ry="1.3" transform="rotate(-30 320.6 292.6)" style="stroke-width:0.8"/>
<ellipse class="o" cx="335.6" cy="301" rx="0.9" ry="1.3" transform="rotate(-30 335.6 301)" style="stroke-width:0.8"/>
<ellipse class="o" cx="344.4" cy="294" rx="0.9" ry="1.3" transform="rotate(-30 344.4 294)" style="stroke-width:0.8"/>
<ellipse class="o" cx="343" cy="279.6" rx="0.9" ry="1.3" transform="rotate(-30 343 279.6)" style="stroke-width:0.8"/>
<path class="o" d="M270.5 301 L291.6 288.8 Q296.6 287.8 301.6 289.8 L307 293.4 L310.8 293 Q314.6 292.4 316.4 295 Q317.6 298 316.6 300.8 L312.4 302.2 Q313.6 308 311.6 313.2 L310.6 316.4 L288.8 332.8 Z" style="stroke-width:1.4"/>
<path class="k" d="M301.6 289.8 Q306 292.6 308.6 296.6 Q310.4 299.6 311 302.6 L312.4 302.2 Q311.6 297 307 293.4 Z" style="stroke-width:1.2"/>
<path class="n" d="M311 294.6 Q312.6 297.6 312 301.6" style="stroke-width:0.9"/>
<path class="o" d="M293 320.8 L309.6 311.4 Q312.4 311.4 312.6 314.4 L312.4 317.6 L294.6 328.8 Q291.6 328 291.8 324.6 Z" style="stroke-width:1.3"/>
<path class="n" d="M294 324.2 L311.4 314.2" style="stroke-width:0.9"/>
<ellipse class="o" cx="279.65" cy="316.9" rx="11.1" ry="18.3" transform="rotate(-30 279.65 316.9)" style="stroke-width:2.3"/>
<ellipse class="n" cx="280.95" cy="316.6" rx="9.1" ry="15.7" transform="rotate(-30 280.95 316.6)" style="stroke-width:0.9"/>
<ellipse class="o" cx="273.9" cy="307.3" rx="3.6" ry="4.9" transform="rotate(-30 273.9 307.3)" style="stroke-width:2.3"/>
<ellipse class="n" cx="274.7" cy="307.1" rx="1.7" ry="2.9" transform="rotate(-30 274.7 307.1)" style="stroke-width:0.7;stroke:#444"/>
<ellipse class="o" cx="282.9" cy="313.1" rx="3.6" ry="4.9" transform="rotate(-30 282.9 313.1)" style="stroke-width:2.3"/>
<ellipse class="n" cx="283.7" cy="312.9" rx="1.7" ry="2.9" transform="rotate(-30 283.7 312.9)" style="stroke-width:0.7;stroke:#444"/>
<ellipse class="o" cx="278.4" cy="321.3" rx="3.6" ry="4.9" transform="rotate(-30 278.4 321.3)" style="stroke-width:2.3"/>
<ellipse class="n" cx="279.2" cy="321.1" rx="1.7" ry="2.9" transform="rotate(-30 279.2 321.1)" style="stroke-width:0.7;stroke:#444"/>
<path class="k" d="M285.6 304.6 L292.2 311.6 L292.6 316 L289.6 313.6 Z" style="stroke-width:0.8"/>
<path class="n" d="M267.6 309 l-1.4 3.4 M287.6 327.6 l2.8 -1.4" style="stroke-width:1.4"/>
<ellipse class="o" cx="291.6" cy="322.8" rx="1.1" ry="1.4" style="stroke-width:0.9"/>
<path class="g" d="M362.4 205.6 Q366.6 206.4 367.8 210 Q368.2 213.4 366.4 215.6 L362.6 218 Z" style="stroke-width:1.2"/>
<ellipse class="g" cx="348.2" cy="212.9" rx="12.2" ry="22.5" transform="rotate(-30 348.2 212.9)" style="stroke-width:1.3"/>
<ellipse class="gn" cx="346.6" cy="213.5" rx="12.2" ry="22.5" transform="rotate(-30 346.6 213.5)" style="stroke-width:0.9"/>
<ellipse class="g" cx="344.8" cy="214.1" rx="12.2" ry="22.5" transform="rotate(-30 344.8 214.1)" style="stroke-width:1.4"/>
<clipPath id="cp8"><ellipse cx="344.3" cy="214.6" rx="8.4" ry="15.7" transform="rotate(-30 344.3 214.6)"/></clipPath>
<ellipse class="g" cx="344.3" cy="214.6" rx="8.4" ry="15.7" transform="rotate(-30 344.3 214.6)" style="stroke-width:1.3"/>
<g clip-path="url(#cp8)"><path d="M330 196 L342 200 Q340.4 206 334.6 210.4 L330 212 Z" fill="#aaa"/><ellipse class="gn" cx="346.6" cy="213.4" rx="8.4" ry="15.7" transform="rotate(-30 346.6 213.4)" style="stroke-width:0.9"/><ellipse class="gn" cx="348.6" cy="212.4" rx="7.6" ry="14.6" transform="rotate(-30 348.6 212.4)" style="stroke-width:0.9"/><path class="gn" d="M348.7 216.9 L344 203 M348.7 216.9 L341 221 M348.7 216.9 L354.6 211 M348.7 216.9 L347 229 M341.6 201.6 Q346.6 208 345.2 218" style="stroke-width:0.9"/></g>
<ellipse class="g" cx="427.2" cy="416.4" rx="26" ry="12.6" style="stroke-width:1.4"/>
<ellipse class="g" cx="427.2" cy="412.8" rx="26" ry="12.4" style="stroke-width:1.4"/>
<ellipse class="gn" cx="427.2" cy="412.4" rx="23.6" ry="10.6" style="stroke-width:0.9"/>
<path class="g" d="M407.6 409.6 Q406.6 404 411.6 400 Q418 395.4 423.6 394.6 Q427 390 431.4 387.6 Q434.6 385.6 438 387 Q442.4 390 444.4 395.4 Q447.4 401.6 447.2 407 Q446.6 411.6 443.6 414.6 Q439.6 417.4 436.6 416.6 Q433.6 410 429.6 405 Q425.6 400.6 422.6 399.6 Q416.6 400.6 413 404.6 Q410.6 408.6 412.4 412.8 Q409.4 412.4 407.6 409.6 Z" style="stroke-width:1.4"/>
<path class="gn" d="M423.6 394.6 Q429.6 398.6 433.6 404.6 Q437.6 410.6 438.6 416.4 M431.4 387.6 Q436.6 392.6 440 399.6 Q443 406 443.6 414.6 M422.6 399.6 Q426.6 404.6 428 410.6 Q428.6 413.6 427.6 415.6 M418.4 397.6 L419.6 401 M421 396 L422 399.8 M428 410.6 Q432 412 435.4 414.4" style="stroke-width:0.95"/>
<ellipse class="g" cx="414.9" cy="403.6" rx="1.9" ry="3.1" transform="rotate(30 414.9 403.6)" style="stroke-width:1"/>
<ellipse class="g" cx="434.2" cy="392" rx="1.7" ry="3" transform="rotate(-25 434.2 392)" style="stroke-width:1"/>
<path class="o" d="M474.6 392 L474.6 360.6 Q474.6 356.2 479 356.2 Q483.4 356.2 483.4 360.6 L483.4 392 Z" style="stroke-width:1.2"/>
<rect x="474.6" y="366.2" width="8.8" height="24" fill="#000"/>
<circle cx="478.7" cy="393" r="8.3" fill="#000"/>
<path class="n" d="M477 361 L481 361 M479 359 L479 363" style="stroke-width:0.9"/>
<path class="o" d="M465.4 368.8 L469.2 368.8 L469.2 381.4 L472 381.4 L467.3 387.8 L462.6 381.4 L465.4 381.4 Z" style="stroke-width:1.2;stroke-linejoin:miter"/>
<g transform="translate(530.8 387.6) rotate(52)"><path class="n" d="M-8.3 0 L-8.3 45 A8.3 8.3 0 0 0 8.3 45 L8.3 0" style="stroke-dasharray:4.2 2.4;stroke-width:1"/></g>
<g transform="translate(530.8 387.6) rotate(24)"><path class="n" d="M-8.3 0 L-8.3 45 A8.3 8.3 0 0 0 8.3 45 L8.3 0" style="stroke-dasharray:4.2 2.4;stroke-width:1"/></g>
<circle class="o" cx="530.8" cy="387.6" r="15.7" style="stroke-width:1.4"/>
<circle class="n" cx="530.8" cy="387.6" r="13.6" style="stroke-width:0.9"/>
<path class="o" d="M522.9 379 L522.9 432 A8.35 8.35 0 0 0 539.6 432 L539.6 379 Q531 370.6 522.9 379 Z" style="stroke:none"/>
<path class="n" d="M522.9 375.6 L522.9 432 A8.35 8.35 0 0 0 539.6 432 L539.6 375.6" style="stroke-width:1.4"/>
<rect x="526.7" y="386" width="8.3" height="2.9" rx="0.8" fill="#000"/>
<path class="n" d="M521 393.6 l1.8 0 M539.8 393.6 l1.8 0" style="stroke-width:1.2"/>
<path class="g" d="M586.6 408.6 Q576 403.6 568.6 409 Q562.6 415 563.6 424 Q565.6 431.6 574 434 Q580 435.4 583.6 434 Z" style="stroke-width:1.3"/>
<ellipse class="g" cx="586.3" cy="421.2" rx="9.6" ry="13.6" transform="rotate(22 586.3 421.2)" style="stroke-width:1.3"/>
<path class="g" d="M580.1 386 L580.1 406.6 Q583 408.6 586.3 407.6 L586.3 386 Z" style="stroke-width:1.2"/>
<ellipse class="g" cx="583.2" cy="386" rx="3.1" ry="1.6" style="stroke-width:1.2"/>
<line class="l" x1="609.3" y1="409.2" x2="644.6" y2="409.2"/>
<line class="l" x1="644.6" y1="409.2" x2="653.6" y2="413.4"/>
<path class="k" d="M654.4 413.8 L649.6 413.4 L651 410.6 Z" style="stroke-width:0.5"/>
<line class="l" x1="648.6" y1="416.8" x2="658.7" y2="411.4"/>
<line class="l" x1="658.5" y1="363" x2="658.5" y2="411.6"/>
<line class="l" x1="676.5" y1="363" x2="676.5" y2="395.3"/>
<line class="l" x1="658.5" y1="378.9" x2="681.7" y2="365.5" style="stroke-width:1.5"/>
<line class="l" x1="658.5" y1="411.6" x2="674.2" y2="402.8" style="stroke-width:1.4"/>
<path class="n" d="M658.5 411.6 L682.2 425.2 L707 412 L691.4 403" style="stroke-width:1.2"/>
<path class="n" d="M682.2 425.2 L682.8 431.4 Q688 431 693 427.6 Q700 423.6 707.4 420.6 L707 412" style="stroke-width:1.2"/>
<line class="ds" x1="686" y1="418.8" x2="699" y2="411.8" style="stroke-dasharray:4 1.6"/>
<line class="ds" x1="686.6" y1="421.6" x2="703.6" y2="412.4" style="stroke-dasharray:4 1.6"/>
<line class="l" x1="663.9" y1="424.8" x2="681" y2="415"/>
<path class="l" d="M672 424 L678.4 427.6"/>
<path class="k" d="M670.6 423 L674.6 423.6 L673.2 426 Z" style="stroke-width:0.5"/>
<ellipse class="n" cx="686.2" cy="412.4" rx="4.6" ry="2.5" style="stroke-width:2"/>
<path class="o" d="M682.8 402 L682.8 411.6 Q686.4 413.6 689.8 411.6 L689.8 400 Z" style="stroke-width:1.2"/>
<path class="o" d="M680 395.4 L698.2 386.2 Q702.4 386 703.8 389.8 Q704.2 393 702.4 395.2 L684.2 404.6 Q680 404.4 678.8 400.4 Q678.4 397.4 680 395.4 Z" style="stroke-width:1.5"/>
<ellipse class="o" cx="681.8" cy="400.2" rx="2.9" ry="4.4" transform="rotate(-28 681.8 400.2)" style="stroke-width:1.3"/>
<path class="n" d="M692.6 389 Q696.4 391.4 696 398.4 M696 387.2 Q699.8 389.6 699.4 396.6" style="stroke-width:1.5"/>
<path class="o" d="M683 389 L683 397.2 L687.4 395.4 L687.4 389 Q685.2 387.8 683 389 Z" style="stroke-width:1.3"/>
<path class="n" d="M699.8 376.2 L699.8 387.6" style="stroke-width:2.2"/>
<text x="0" y="0" font-size="50" style="fill:#7d7d7d;fill-opacity:0.21" transform="translate(257.2 645.7) rotate(-45) scale(1.1 1)">lampimaailm.ee</text>
</svg>
<div class="foot"></div>
</body></html>
